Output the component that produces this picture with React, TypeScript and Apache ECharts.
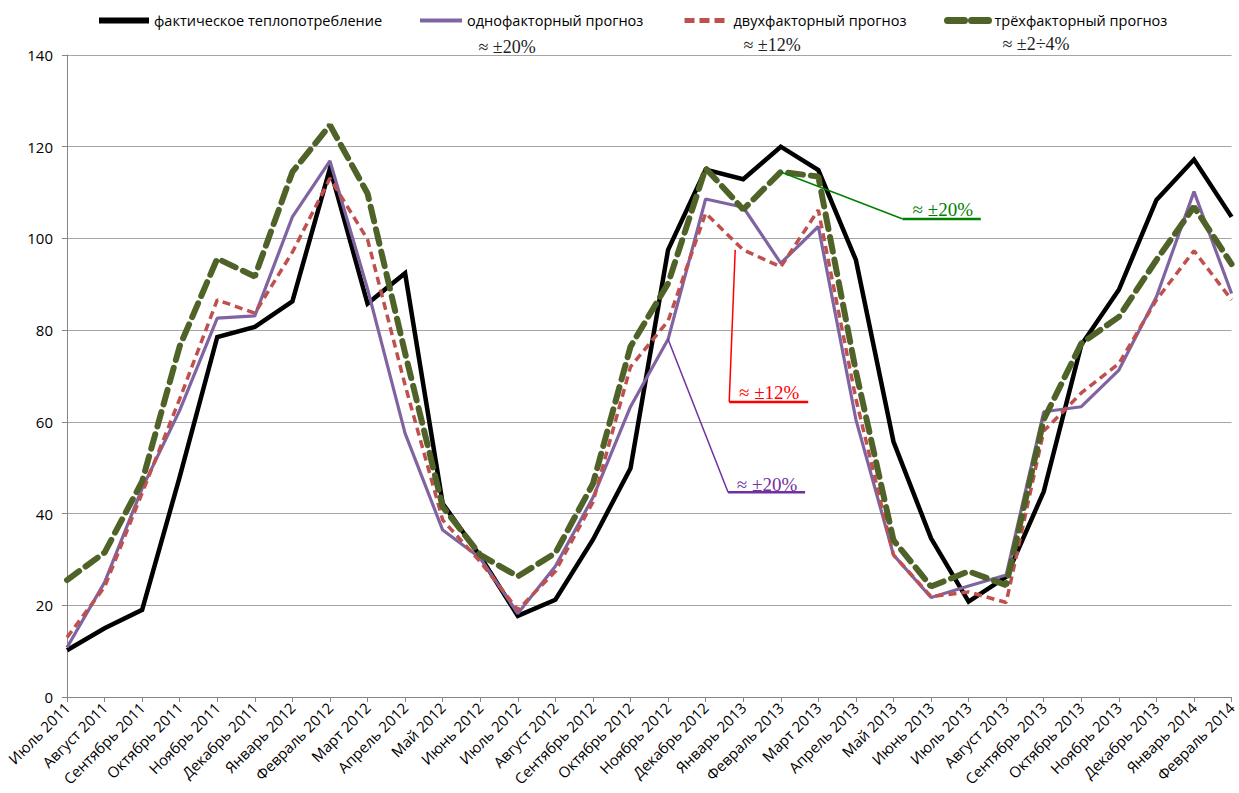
import { useEffect, useRef } from "react";
import * as echarts from "echarts";

const months = [
  "Июль 2011", "Август 2011", "Сентябрь 2011", "Октябрь 2011", "Ноябрь 2011", "Декабрь 2011",
  "Январь 2012", "Февраль 2012", "Март 2012", "Апрель 2012", "Май 2012", "Июнь 2012",
  "Июль 2012", "Август 2012", "Сентябрь 2012", "Октябрь 2012", "Ноябрь 2012", "Декабрь 2012",
  "Январь 2013", "Февраль 2013", "Март 2013", "Апрель 2013", "Май 2013", "Июнь 2013",
  "Июль 2013", "Август 2013", "Сентябрь 2013", "Октябрь 2013", "Ноябрь 2013", "Декабрь 2013",
  "Январь 2014", "Февраль 2014",
];

const actual = [10.2, 15, 19, 48, 78.5, 80.7, 86.3, 115.3, 85.8, 92.4, 42.2, 30.7, 17.7, 21.2, 34.3, 49.9, 97.5, 115, 112.9, 120, 114.9, 95.3, 55.7, 34.6, 20.8, 26.2, 44.8, 76.8, 88.8, 108.4, 117.2, 104.7];
const oneFactor = [10.8, 25, 45.5, 62.5, 82.6, 83.1, 104.7, 116.9, 89, 57.5, 36.4, 30.3, 18.2, 28.5, 43.5, 63.3, 78, 108.6, 106.8, 94.6, 102.6, 60.5, 31, 21.7, 24.2, 26.6, 62.2, 63.3, 71.3, 87.3, 110.2, 88];
const twoFactor = [13, 24, 44.5, 65, 86.6, 83.7, 97, 113.1, 99.8, 68, 38.6, 29.5, 19, 27.4, 42.5, 72, 82, 105.5, 97.5, 93.8, 106.2, 65, 31, 21.9, 22.9, 20.6, 58, 66.3, 72.7, 86.6, 97.3, 86.6];
const threeFactor = [25.5, 31.5, 47, 76.5, 95.6, 91.7, 114.5, 124.7, 109.8, 75, 41.5, 31, 26.3, 31.4, 46.5, 76.4, 90.2, 115.3, 106.3, 114.5, 113.5, 71, 34.2, 24.1, 27.4, 24.4, 60.5, 77.1, 82.9, 95.3, 106.9, 94.4];

const seriesNames = [
  "фактическое теплопотребление",
  "однофакторный прогноз",
  "двухфакторный прогноз",
  "трёхфакторный прогноз",
];
const topNotes = ["≈ ±20%", "≈ ±12%", "≈ ±2÷4%"];
const calloutNotes = ["≈ ±20%", "≈ ±12%", "≈ ±20%"];

const SANS = '"Open Sans", "Noto Sans", sans-serif';
const SERIF = '"Liberation Serif", "DejaVu Serif", serif';

export default function App() {
  const ref = useRef<HTMLDivElement>(null);

  useEffect(() => {
    if (!ref.current) return;
    const chart = echarts.init(ref.current, undefined, { renderer: "svg" });

    const legendBase = (name: string, left: number, width: number, ls: any) => ({
      data: [name],
      left,
      top: 13,
      padding: 0,
      itemWidth: width,
      itemHeight: 14,
      selectedMode: false,
      textStyle: { fontSize: 14.5, fontFamily: SANS, color: "#000" },
      lineStyle: ls,
      itemStyle: {
        color: "rgba(0,0,0,0)",
        borderColor: "rgba(0,0,0,0)",
        borderWidth: 0,
        opacity: 0,
      },
    });

    chart.setOption({
      animation: false,
      backgroundColor: "#fff",
      grid: { left: 67, right: 3, top: 55, bottom: 96, containLabel: false },
      legend: [
        legendBase(seriesNames[0], 96, 50, { width: 6, color: "#000", type: "solid", opacity: 1 }),
        legendBase(seriesNames[1], 418, 42, { width: 4, color: "#8064A2", type: "solid", opacity: 1 }),
        legendBase(seriesNames[2], 682, 44, { width: 5, color: "#C0504D", type: [10, 5], opacity: 1 }),
        legendBase(seriesNames[3], 944, 42, { width: 7, color: "#4F6228", type: [17, 7], cap: "round", opacity: 1 }),
      ],
      xAxis: {
        type: "category",
        data: months,
        boundaryGap: false,
        axisLine: { lineStyle: { color: "#868686", width: 1 } },
        axisTick: { show: true, interval: 0, length: 5, lineStyle: { color: "#868686" } },
        axisLabel: {
          interval: 0,
          rotate: 45,
          fontSize: 15,
          fontFamily: SANS,
          color: "#000",
          margin: 8,
        },
        splitLine: { show: false },
      },
      yAxis: {
        type: "value",
        min: 0,
        max: 140,
        interval: 20,
        axisLine: { show: true, lineStyle: { color: "#868686", width: 1 } },
        axisTick: { show: true, length: 5, lineStyle: { color: "#868686" } },
        axisLabel: { fontSize: 15, fontFamily: SANS, color: "#000", margin: 14 },
        splitLine: { lineStyle: { color: "#A6A6A6", width: 1.2 } },
      },
      series: [
        {
          name: seriesNames[0],
          type: "line",
          data: actual,
          symbol: "none",
          lineStyle: { color: "#000", width: 4.5, join: "miter" },
          itemStyle: { color: "#000" },
        },
        {
          name: seriesNames[1],
          type: "line",
          data: oneFactor,
          symbol: "none",
          lineStyle: { color: "#8064A2", width: 3.2 },
          itemStyle: { color: "#8064A2" },
        },
        {
          name: seriesNames[2],
          type: "line",
          data: twoFactor,
          symbol: "none",
          lineStyle: { color: "#C0504D", width: 3.5, type: [8, 5] },
          itemStyle: { color: "#C0504D" },
        },
        {
          name: seriesNames[3],
          type: "line",
          data: threeFactor,
          symbol: "none",
          lineStyle: { color: "#4F6228", width: 6, type: [15, 8], cap: "round" },
          itemStyle: { color: "#4F6228" },
        },
      ],
    });

    const px = (i: number, v: number) =>
      chart.convertToPixel({ xAxisIndex: 0, yAxisIndex: 0 }, [i, v]) as number[];

    const g = px(19, threeFactor[19]);
    const r = px(18, twoFactor[18]);
    const p = px(16, oneFactor[16]);

    const seg = (x1: number, y1: number, x2: number, y2: number, stroke: string, w: number) => ({
      type: "line",
      silent: true,
      z: 100,
      shape: { x1, y1, x2, y2 },
      style: { stroke, lineWidth: w },
    });
    const txt = (x: number, y: number, text: string, fill: string, size: number) => ({
      type: "text",
      silent: true,
      z: 101,
      x,
      y,
      style: {
        text,
        fill,
        fontSize: size,
        fontFamily: SERIF,
        align: "center",
        verticalAlign: "middle",
      },
    });

    const green = "#008000";
    const red = "#FF0000";
    const purple = "#7030A0";

    chart.setOption({
      graphic: [
        txt(507, 47, topNotes[0], "#222", 18),
        txt(772, 45, topNotes[1], "#222", 18),
        txt(1036, 44, topNotes[2], "#222", 18),
        // green callout
        seg(g[0], g[1], g[0] + 122, g[1] + 47, green, 1.5),
        seg(g[0] + 122, g[1] + 47, g[0] + 200, g[1] + 47, green, 2.5),
        txt(g[0] + 162, g[1] + 38, calloutNotes[0], green, 19),
        // red callout
        seg(r[0] - 8, r[1], r[0] - 14, r[1] + 152, red, 1.5),
        seg(r[0] - 14, r[1] + 152, r[0] + 65, r[1] + 152, red, 2.5),
        txt(r[0] + 26, r[1] + 143, calloutNotes[1], red, 19),
        // purple callout
        seg(p[0], p[1], p[0] + 60, p[1] + 153, purple, 1.5),
        seg(p[0] + 60, p[1] + 153, p[0] + 137, p[1] + 153, purple, 2.5),
        txt(p[0] + 99, p[1] + 145, calloutNotes[2], purple, 19),
      ],
    });

    return () => chart.dispose();
  }, []);

  return (
    <div
      ref={ref}
      style={{ position: "fixed", left: 0, top: 0, width: 1239, height: 793, background: "#fff" }}
    />
  );
}
